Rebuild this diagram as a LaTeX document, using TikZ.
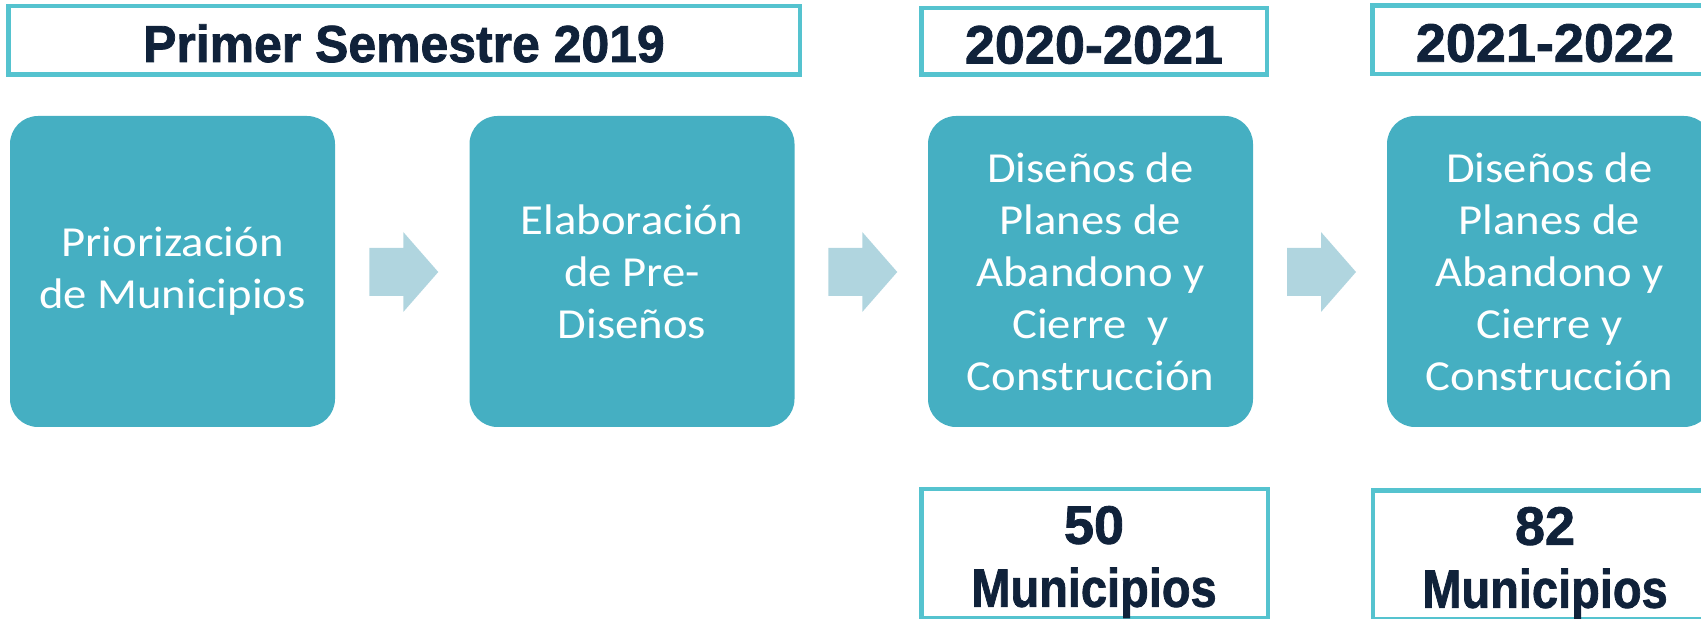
\documentclass[tikz,border=0pt]{standalone}
\usepackage{fontspec}
\usepackage{graphicx}
\usetikzlibrary{calc}
\newfontfamily\boxfont{Carlito}[FakeStretch=1.09]
\newfontfamily\hdrfont{Liberation Sans}[FakeBold=1.5]
\definecolor{boxfill}{HTML}{45AFC2}
\definecolor{arrowc}{HTML}{B0D5DF}
\definecolor{bordc}{HTML}{55C3CF}
\definecolor{navy}{HTML}{10223A}
\tikzset{
  framebox/.style={draw=bordc, line width=2.25pt, fill=white, inner sep=0pt, text=navy,
    font=\hdrfont\bfseries\fontsize{27}{31}\selectfont},
  stagebox/.style={fill=boxfill, rounded corners=14pt, minimum width=162.5pt,
    minimum height=155.5pt, inner sep=0pt, text=white, align=center,
    font=\boxfont\fontsize{21.4}{26}\selectfont},
  counttext/.style={inner sep=0pt, text=navy, align=center,
    font=\hdrfont\bfseries\fontsize{27}{31.5}\selectfont},
  blockarrow/.style={fill=arrowc}
}
\begin{document}
\begin{tikzpicture}[x=0.5pt, y=-0.5pt]
\useasboundingbox (0,0) rectangle (1701,619);
\clip (0,0) rectangle (1701,619);
% header boxes
\node[framebox, minimum width=395.75pt, minimum height=34.25pt, text height=21.5pt, text depth=0pt]
  (h1) at (404,40.5) {\fontsize{26}{30}\selectfont\scalebox{0.96}[1]{Primer Semestre 2019}};
\node[framebox, minimum width=172.75pt, minimum height=33.25pt, text height=22pt, text depth=0pt]
  (h2) at (1094,41.5) {2020-2021};
\node[framebox, minimum width=172.75pt, minimum height=34.1pt, text height=22pt, text depth=0pt]
  (h3) at (1545,39.7) {2021-2022};
% stage boxes
\node[stagebox] (b1) at (172.5,271.5) {Priorización\\de Municipios};
\node[stagebox] (b2) at (632,271.5) {Elaboración\\de Pre-\\Diseños};
\node[stagebox] (b3) at (1090.5,271.5) {Diseños de\\Planes de\\Abandono y\\Cierre\ \ y\\Construcción};
\node[stagebox] (b4) at (1549.5,271.5) {Diseños de\\Planes de\\Abandono y\\Cierre y\\Construcción};
% block arrows between stages
\foreach \a/\b/\m in {b1/b2/m1, b2/b3/m2, b3/b4/m3}{
  \coordinate (\m) at ($(\a.east)!0.5!(\b.west)+(1.5,0.5)$);
  \fill[blockarrow] ($(\m)+(-34.5,-24)$) -- ($(\m)+(-0.5,-24)$) -- ($(\m)+(-0.5,-40)$)
    -- ($(\m)+(34.5,0)$) -- ($(\m)+(-0.5,40)$) -- ($(\m)+(-0.5,24)$)
    -- ($(\m)+(-34.5,24)$) -- cycle;
}
% count boxes
\node[framebox, minimum width=173.25pt, minimum height=64.25pt] (c1) at (1094.5,553.5) {};
\node[framebox, minimum width=172.75pt, minimum height=64.25pt] (c2) at (1545.5,555) {};
\node[counttext] (n1) at (1094,562) {50\\\scalebox{0.87}[1]{Municipios}};
\node[counttext] (n2) at (1545,563) {82\\\scalebox{0.87}[1]{Municipios}};
\end{tikzpicture}
\end{document}
